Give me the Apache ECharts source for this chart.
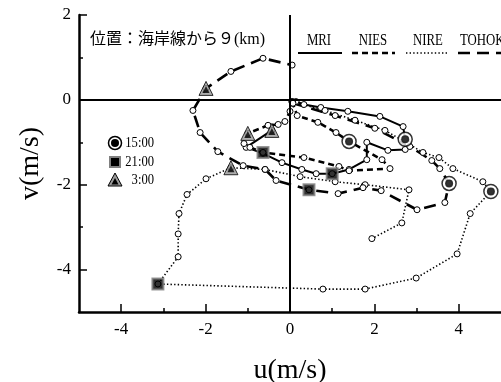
<!DOCTYPE html>
<html><head><meta charset="utf-8">
<script src="https://cdn.jsdelivr.net/npm/echarts@6/dist/echarts.min.js"></script>
<style>html,body{margin:0;padding:0;background:#fff}#c{width:501px;height:382px}</style>
</head><body><div id="c"></div>
<script>
// ---- data ----
const xTicks = [-4, -2, 0, 2, 4];
const xMinor = [-3, -1, 1, 3];
const yTicks = [-4, -2, 0, 2];
const yMinor = [-3, -1, 1];
const seriesNames = ['MRI', 'NIES', 'NIRE', 'TOHOKU'];
const markTimes = ['15:00', '21:00', '3:00'];
const note = '位置：海岸線から９(km)';

const mriU = [0.14,0.33,0.73,1.37,2.13,2.68,2.73,2.73,2.32,1.82,1.82,1.40,1.00,0.62,0.28,-0.19,-0.64,-1.04,-0.43];
const mriV = [-0.04,-0.11,-0.18,-0.27,-0.39,-0.63,-0.93,-1.17,-1.19,-1.00,-1.41,-1.64,-1.74,-1.74,-1.64,-1.48,-1.26,-1.12,-0.72];
const mriKey = [6, 12, 18];

const niesU = [0.05,0.17,0.66,1.09,1.40,2.18,2.37,1.40,1.16,0.33,-0.64,-0.95,-1.09,-1.00,-0.52,-0.28,-0.12,0.00,0.05];
const niesV = [-0.04,-0.37,-0.53,-0.77,-0.98,-1.41,-1.62,-1.67,-1.57,-1.36,-1.24,-1.12,-1.03,-0.79,-0.60,-0.58,-0.51,-0.27,-0.06];
const niesKey = [4, 10, 13];

const nireU = [0.05,0.83,1.54,2.25,2.80,3.15,3.53,3.86,4.57,4.76,4.27,3.96,2.99,1.78,0.78,-3.13,-2.65,-2.65,-2.63,-2.44,-1.99,-1.40,-0.59,0.24,1.07,1.78,2.82,2.65,1.94];
const nireV = [-0.04,-0.25,-0.48,-0.72,-1.03,-1.24,-1.36,-1.62,-1.93,-2.16,-2.68,-3.63,-4.20,-4.46,-4.46,-4.34,-3.70,-3.16,-2.68,-2.23,-1.86,-1.60,-1.64,-1.81,-1.93,-2.00,-2.12,-2.90,-3.27];
const nireKey = [9, 15, 21];

const tohU = [0.07,1.07,2.01,2.84,3.36,3.55,3.77,3.67,3.01,2.16,1.73,1.14,0.45,-0.33,-0.59,-1.11,-1.71,-2.13,-2.30,-1.99,-1.40,-0.64,0.05];
const tohV = [-0.08,-0.37,-0.67,-1.10,-1.43,-1.62,-1.97,-2.42,-2.59,-2.14,-2.07,-2.21,-2.12,-1.90,-1.64,-1.55,-1.22,-0.77,-0.25,0.27,0.67,0.98,0.82];
const tohKey = [6, 12, 19];

// ---- chart ----
const serif = 'Liberation Serif';
const all = [
  {name: seriesNames[0], U: mriU, V: mriV, K: mriKey, line: {type: 'solid', width: 2}},
  {name: seriesNames[1], U: niesU, V: niesV, K: niesKey, line: {type: [6, 4], width: 2.6}},
  {name: seriesNames[2], U: nireU, V: nireV, K: nireKey, line: {type: [1.4, 2.2], width: 1.6}},
  {name: seriesNames[3], U: tohU, V: tohV, K: tohKey, line: {type: [12, 7], width: 2.6}}
];
const pts = s => s.U.map((u, i) => [u, s.V[i]]);
const keyPts = k => all.map(s => [s.U[s.K[k]], s.V[s.K[k]]]);

const series = all.map((s, i) => ({
  type: 'line', name: s.name, data: pts(s),
  symbol: 'circle', symbolSize: 6, showSymbol: true,
  lineStyle: Object.assign({color: '#000'}, s.line),
  itemStyle: {color: '#fff', borderColor: '#000', borderWidth: 1},
  z: 3, silent: true,
  markLine: i === 0 ? {silent: true, symbol: 'none', label: {show: false},
    lineStyle: {color: '#000', width: 2, type: 'solid'},
    data: [{xAxis: 0}, {yAxis: 0}]} : undefined
}));
// 15:00
series.push({type: 'scatter', data: keyPts(0), symbol: 'circle', symbolSize: 14, z: 5,
  itemStyle: {color: '#fff', borderColor: '#000', borderWidth: 1.5}});
series.push({type: 'scatter', data: keyPts(0), symbol: 'circle', symbolSize: 8, z: 6,
  itemStyle: {color: '#000'}});
// 21:00
series.push({type: 'scatter', data: keyPts(1), symbol: 'rect', symbolSize: 11, z: 5,
  itemStyle: {color: '#000', borderColor: '#808080', borderWidth: 2}});
// 3:00
series.push({type: 'scatter', data: keyPts(2), symbol: 'triangle', symbolSize: 14, z: 5,
  itemStyle: {color: '#9a9a9a', borderColor: '#000', borderWidth: 1}});
series.push({type: 'scatter', data: keyPts(2), symbol: 'triangle', symbolSize: 7, z: 6,
  itemStyle: {color: '#000'}, symbolOffset: [0, 1]});

const tickFont = {fontFamily: serif, fontSize: 17, color: '#000'};
function axisPair(isX) {
  const major = isX ? xTicks : yTicks, minor = isX ? xMinor : yMinor;
  const base = {type: 'value', min: -5, max: isX ? 5 : 2, splitLine: {show: false},
    position: isX ? 'bottom' : 'left'};
  return [
    Object.assign({}, base, {
      axisLine: {show: true, onZero: false, lineStyle: {color: '#000', width: 2.5}},
      axisTick: {show: true, inside: true, length: 8, customValues: major, lineStyle: {color: '#000', width: 1.5}},
      axisLabel: Object.assign({customValues: major, margin: isX ? 9 : 8, formatter: v => String(v)}, tickFont),
      name: isX ? 'u(m/s)' : 'v(m/s)', nameLocation: 'middle', nameGap: isX ? 45 : 34,
      nameRotate: isX ? 0 : 90,
      nameTextStyle: {fontFamily: serif, fontSize: 28, color: '#000'}
    }),
    Object.assign({}, base, {
      axisLine: {show: false, onZero: false},
      axisTick: {show: true, inside: true, length: 4, customValues: minor, lineStyle: {color: '#000', width: 1.5}},
      axisLabel: {show: false}
    })
  ];
}

const lgY = 53, lgT = 41;
const lg = [
  {t: seriesNames[0], tx: 319, x1: 298, x2: 342, dash: null, w: 2},
  {t: seriesNames[1], tx: 373, x1: 352, x2: 395, dash: [6, 4], w: 2.6},
  {t: seriesNames[2], tx: 428, x1: 406, x2: 449, dash: [1.4, 2.2], w: 1.6},
  {t: seriesNames[3], tx: 460, x1: 458, x2: 510, dash: [12, 7], w: 2.6}
];
const graphic = [];
lg.forEach((l, i) => {
  graphic.push({type: 'text', x: l.tx, y: lgT, scaleX: 0.8,
    style: {text: l.t, font: '16px "Liberation Serif"', fill: '#000',
      align: i === 3 ? 'left' : 'center', verticalAlign: 'middle'}});
  graphic.push({type: 'line', shape: {x1: l.x1, y1: lgY, x2: l.x2, y2: lgY},
    style: {stroke: '#000', lineWidth: l.w, lineDash: l.dash}});
});
graphic.push({type: 'text', x: 90, y: 40, style: {text: note,
  font: '16px "Liberation Serif", "Noto Sans CJK JP"', fill: '#000', verticalAlign: 'middle'}});
// marker legend
graphic.push({type: 'circle', shape: {cx: 115, cy: 143, r: 6.5}, style: {fill: '#fff', stroke: '#000', lineWidth: 1.5}});
graphic.push({type: 'circle', shape: {cx: 115, cy: 143, r: 4}, style: {fill: '#000'}});
graphic.push({type: 'rect', shape: {x: 110, y: 157, width: 10, height: 10}, style: {fill: '#000', stroke: '#808080', lineWidth: 2}});
graphic.push({type: 'polygon', shape: {points: [[115, 173], [122, 186], [108, 186]]}, style: {fill: '#9a9a9a', stroke: '#000', lineWidth: 1}});
graphic.push({type: 'polygon', shape: {points: [[115, 178], [118.5, 184.5], [111.5, 184.5]]}, style: {fill: '#000'}});
[143, 162, 180].forEach((yy, i) => {
  graphic.push({type: 'text', x: 154, y: yy, scaleX: 0.9, style: {text: markTimes[i],
    font: '14px "Liberation Serif"', fill: '#000', align: 'right', verticalAlign: 'middle'}});
});

const chart = echarts.init(document.getElementById('c'), null, {renderer: 'canvas'});
chart.setOption({
  animation: false,
  backgroundColor: '#fff',
  grid: {left: 79, top: 15, width: 422, height: 297, outerBoundsMode: 'none', containLabel: false},
  xAxis: axisPair(true),
  yAxis: axisPair(false),
  series: series,
  graphic: graphic
});
</script></body></html>
